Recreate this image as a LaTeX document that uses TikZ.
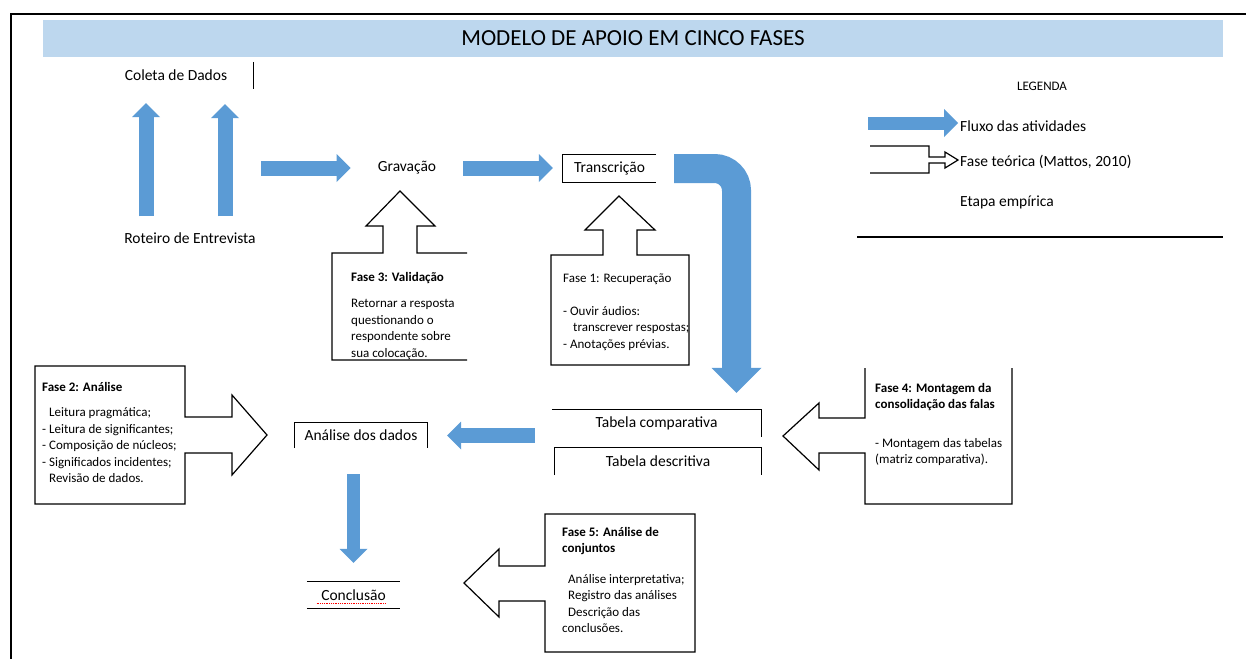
\documentclass[tikz,border=0pt]{standalone}
\usepackage{fontspec}
\setmainfont{Carlito}
\usepackage{tikz}
\usetikzlibrary{arrows.meta,positioning,calc}
\definecolor{flowblue}{RGB}{91,155,213}
\definecolor{bandblue}{RGB}{189,215,238}

\begin{document}
\begin{tikzpicture}[
    x=1pt, y=-1pt,
    lbl/.style={inner sep=0pt, font=\fontsize{15.5}{18}\selectfont},
    phase/.style={inner sep=0pt, align=left, anchor=north west, font=\fontsize{13}{16.5}\selectfont},
    callout/.style={draw, line width=1.2pt, fill=white, line join=miter},
    edge/.style={line width=1.2pt},
    flow/.style={draw=flowblue, line width=15pt, -{Triangle[width=28pt, length=14pt, line width=0pt]}},
    bigflow/.style={draw=flowblue, line width=29pt, rounded corners=22pt, -{Triangle[width=50pt, length=25pt, line width=0pt]}}
]
  \useasboundingbox (0,0) rectangle (1246,659);
  \draw[line width=2.5pt] (1246,14) -- (11,14) -- (11,659);

  \node[fill=bandblue, minimum width=1180pt, minimum height=37pt, inner sep=0pt, font=\fontsize{23}{26}\selectfont] (title) at (633,38.5) {MODELO DE APOIO EM CINCO FASES};

  \node[lbl, minimum width=154pt, minimum height=27pt] (coleta) at (176,75.5) {Coleta de Dados};
  \draw[edge] (coleta.north east) -- (coleta.south east);
  \node[lbl] (roteiro) at (190,238) {Roteiro de Entrevista};
  \node[lbl] (gravacao) at (407,168) {Gravação};
  \node[lbl, minimum width=93pt, minimum height=27pt] (transc) at (609.5,168.5) {Transcrição};
  \draw[edge] (transc.north east) -- (transc.north west) -- (transc.south west) -- (transc.south east);

  \node[lbl, font=\fontsize{13}{16}\selectfont] (legenda) at (1042,86) {LEGENDA};
  \node[lbl, anchor=west] (fluxo) at (960,126) {Fluxo das atividades};
  \node[lbl, anchor=west] (teorica) at (960,162) {Fase teórica (Mattos, 2010)};
  \node[lbl, anchor=west] (empirica) at (960,202) {Etapa empírica};
  \draw[line width=1.5pt] (857,237) -- (1223,237);
  \coordinate (lgstart) at (868,123);
  \draw[flow, line width=13pt, shorten >=2pt] (lgstart) -- (lgstart -| fluxo.west);
  \draw[edge, fill=white] (870,146) -- (929,146) -- (929,157) -- (945,157) -- (945,152) -- (958,160) -- (945,168) -- (945,163) -- (929,163) -- (929,173) -- (870,173);

  \draw[callout] (467,253) -- (417,253) -- (417,226) -- (435,226) -- (400,191) -- (366,226) -- (383,226) -- (383,253) -- (332,253) -- (332,360) -- (467,360);
  \node[phase] (fase3) at (351,272) {\textbf{Fase 3: Validação}\\[10pt]Retornar a resposta\\questionando o\\respondente sobre\\sua colocação.};

  \draw[callout] (551,255) -- (603,255) -- (603,230) -- (585,230) -- (619,196) -- (655,230) -- (637,230) -- (637,255) -- (689,255) -- (689,365) -- (551,365) -- cycle;
  \node[phase] (fase1) at (563,274) {Fase 1: Recuperação\\[16pt]- Ouvir áudios:\\\hspace{10pt}transcrever respostas;\\- Anotações prévias.};

  \draw[callout] (35,366) -- (185,366) -- (185,417) -- (232,417) -- (232,395) -- (267,435) -- (232,475) -- (232,453) -- (185,453) -- (185,504) -- (35,504) -- cycle;
  \node[phase] (fase2) at (42,382) {\textbf{Fase 2: Análise}\\[9pt]\hspace{7pt}Leitura pragmática;\\- Leitura de significantes;\\- Composição de núcleos;\\- Significados incidentes;\\\hspace{7pt}Revisão de dados.};

  \draw[callout] (865,368) -- (865,418) -- (819,418) -- (819,403) -- (783,436) -- (819,470) -- (819,453) -- (865,453) -- (865,504) -- (1012,504) -- (1012,368);
  \node[phase] (fase4) at (875,383) {\textbf{Fase 4: Montagem da}\\\textbf{consolidação das falas}\\[22pt]- Montagem das tabelas\\(matriz comparativa).};

  \draw[callout] (545,514) -- (695,514) -- (695,652) -- (545,652) -- (545,601) -- (499,601) -- (499,617) -- (464,583) -- (499,549) -- (499,566) -- (545,566) -- cycle;
  \node[phase] (fase5) at (562,527) {\textbf{Fase 5: Análise de}\\\textbf{conjuntos}\\[14pt]\hspace{6pt}Análise interpretativa;\\\hspace{6pt}Registro das análises\\\hspace{6pt}Descrição das\\conclusões.};

  \node[lbl, minimum width=132pt, minimum height=25pt] (analise) at (361,435.5) {Análise dos dados};
  \draw[edge] (analise.south west) -- (analise.north west) -- (analise.north east) -- (analise.south east);
  \node[lbl, minimum width=209pt, minimum height=27pt] (tabcomp) at (656.5,423.5) {Tabela comparativa};
  \draw[edge] (tabcomp.north west) -- (tabcomp.north east) -- (tabcomp.south east);
  \node[lbl, minimum width=206pt, minimum height=27pt] (tabdesc) at (658,461.5) {Tabela descritiva};
  \draw[edge] (tabdesc.south west) -- (tabdesc.north west) -- (tabdesc.north east) -- (tabdesc.south east);
  \node[lbl, minimum width=93pt, minimum height=26pt] (conclusao) at (353.5,595) {Conclusão};
  \draw[edge] (conclusao.north west) -- (conclusao.north east);
  \draw[edge] (conclusao.south west) -- (conclusao.south east);
  \draw[red, densely dotted, line width=0.8pt] ([xshift=-37pt,yshift=-8pt]conclusao.center) -- ([xshift=33pt,yshift=-8pt]conclusao.center);

  \coordinate (footL) at ([xshift=-44pt]roteiro.north);
  \coordinate (footR) at ([xshift=35pt]roteiro.north);
  \draw[flow, shorten <=16pt, shorten >=14pt] (footL) -- (footL |- coleta.south);
  \draw[flow, shorten <=16pt, shorten >=15pt] (footR) -- (footR |- coleta.south);
  \draw[flow, shorten <=8pt, shorten >=27pt] (gravacao.west -| coleta.east) -- (gravacao.west);
  \draw[flow, shorten <=27pt, shorten >=10pt] (gravacao.east) -- (gravacao.east -| transc.west);
  \draw[bigflow, shorten <=18pt, shorten >=17pt] (transc.east) -| ([xshift=80pt]tabcomp.north);
  \draw[flow, shorten <=17pt, shorten >=20pt] (analise.east -| tabcomp.west) -- (analise.east);
  \draw[flow, line width=13pt, shorten <=26pt, shorten >=19pt] (conclusao.north |- analise.south) -- (conclusao.north);
\end{tikzpicture}
\end{document}
